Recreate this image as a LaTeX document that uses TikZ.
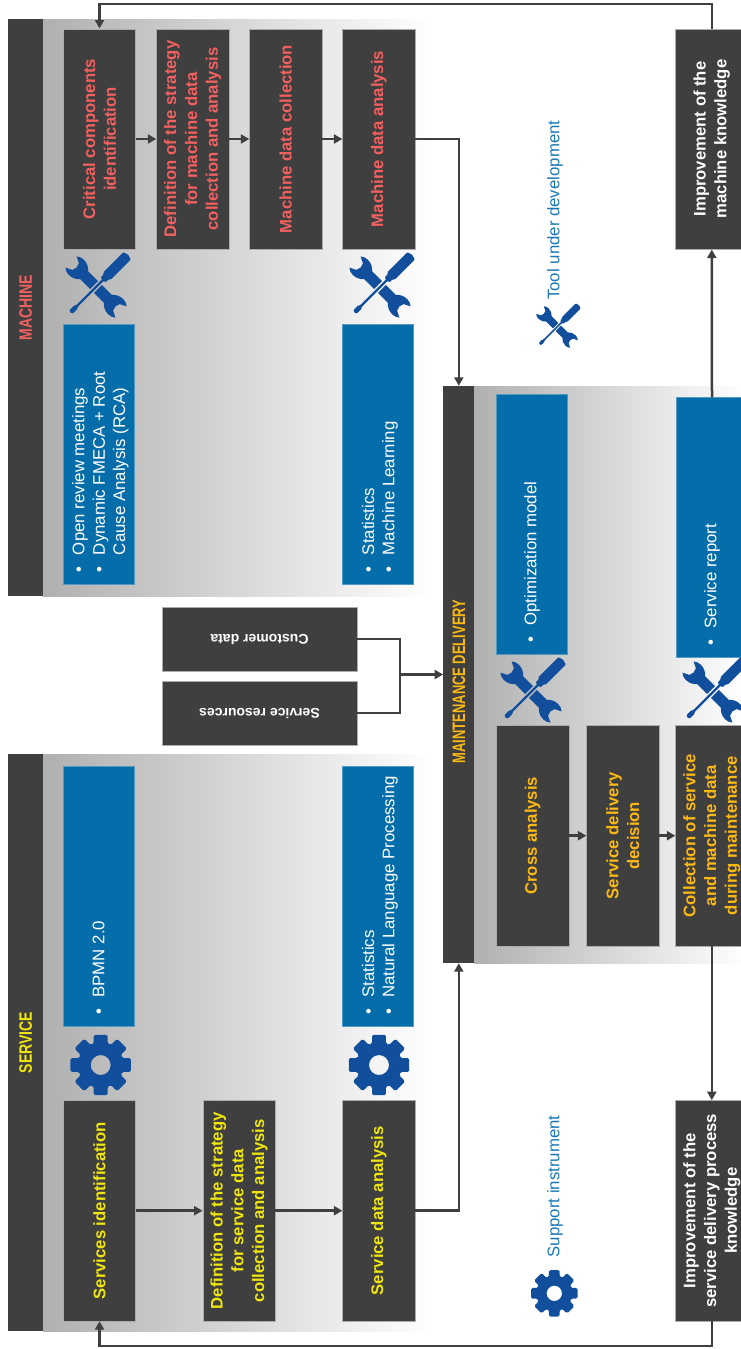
\documentclass[tikz,border=0pt]{standalone}
\usepackage{fontspec}
\usepackage{graphicx}
\setmainfont{Liberation Sans}
\usetikzlibrary{arrows.meta}
\definecolor{dark}{HTML}{3F3F3F}
\definecolor{blueb}{HTML}{056DA9}
\definecolor{iconb}{HTML}{114E9C}
\definecolor{legendb}{HTML}{1A78B4}
\definecolor{machc}{HTML}{F2605F}
\definecolor{servc}{HTML}{F0E60E}
\definecolor{mainc}{HTML}{FDB913}
\tikzset{
  header/.style={fill=dark,draw=none,rotate=90,inner sep=0pt,font=\fontsize{18}{20}\selectfont\bfseries},
  darkbox/.style={fill=dark,draw=gray!65,line width=.5pt,rotate=90,inner sep=0pt,align=center,minimum width=220.5pt,minimum height=72.3pt,font=\fontsize{16.7}{20.8}\selectfont\bfseries},
  inputbox/.style={fill=dark,draw=gray!65,line width=.5pt,rotate=180,inner sep=0pt,align=center,minimum width=195pt,minimum height=64pt,text=white,font=\fontsize{14}{16}\selectfont\bfseries},
  bluebox/.style={fill=blueb,draw=blueb!70!white,line width=.4pt,rotate=90,inner xsep=6pt,inner ysep=0pt,align=flush left,text width=248pt,minimum height=71pt,text=white,font=\fontsize{16.8}{20.3}\selectfont},
  legendtext/.style={rotate=90,anchor=west,inner sep=0pt,text=legendb,font=\fontsize{16.8}{20}\selectfont},
  conn/.style={draw=dark,line width=2.5pt,-{Triangle[length=8.5pt,width=9pt]}},
  plainconn/.style={draw=dark,line width=2.5pt},
  panel/.style={left color=gray!62,right color=white,draw=none}
}
\newcommand{\bul}[1]{\hspace*{6pt}\makebox[17pt][l]{\textbullet}#1}
\newcommand{\toprule}{\rule{0pt}{16pt}}
\newcommand{\squeezed}[2]{\scalebox{#1}[1]{#2}}
\newcommand{\toolicon}[3]{%
  \begin{scope}[shift={(#1,#2)},scale=#3]
    \foreach \ang in {135,-45}{
      \fill[iconb,rotate=\ang,scale=.93] (3,-6) -- (18,-6) .. controls (21,-9.5) and (25,-11.5) .. (30,-11.5)
        .. controls (33,-11.5) and (36,-10.5) .. (38,-8.5) -- (31,-5) .. controls (29,-2) and (29,2) .. (31,5)
        -- (38,8.5) .. controls (36,10.5) and (33,11.5) .. (30,11.5) .. controls (25,11.5) and (21,9.5) .. (18,6) -- (3,6) -- cycle;
    }
    \fill[iconb,rotate=45,rounded corners=.8pt] (-36,-1) -- (-35,-2.3) -- (-29,-2.5) -- (-27,-1.2) -- (10,-1.2) -- (10,-3.5) -- (14,-3.5) -- (16,-5.2)
      -- (44,-5.2) -- (45.5,0) -- (44,5.2) -- (16,5.2) -- (14,3.5) -- (10,3.5) -- (10,1.2) -- (-27,1.2) -- (-29,2.5) -- (-35,2.3) -- (-36,1) -- cycle;
  \end{scope}}
\newcommand{\gearicon}[3]{%
  \begin{scope}[shift={(#1,#2)},scale=#3]
    \fill[iconb,even odd rule,rounded corners=1.6pt] (-18:22.5)
      \foreach \a in {0,45,...,315}{ -- ({\a-18}:22.5) -- ({\a-13}:31) -- ({\a+13}:31) -- ({\a+18}:22.5) } -- cycle
      (10,0) arc[start angle=0,end angle=360,radius=10];
  \end{scope}}
\begin{document}
\begin{tikzpicture}[x=1pt,y=-1pt]
\useasboundingbox (0,0) rectangle (741,1349);
\clip (0,0) rectangle (741,1349);
% panels
\shade[panel] (43,19) rectangle (432,596);
\shade[panel] (43,754) rectangle (432,1331);
\shade[panel] (474,386) rectangle (745,963);
% headers
\node[header,minimum width=577pt,minimum height=35pt,text=machc] (hm) at (25.7,307.5) {\squeezed{.78}{MACHINE}};
\node[header,minimum width=577pt,minimum height=35pt,text=servc] (hs) at (25.7,1042.5) {\squeezed{.78}{SERVICE}};
\node[header,minimum width=577pt,minimum height=31pt,text=mainc] (md) at (458.8,674.5) {\squeezed{.72}{MAINTENANCE DELIVERY}\hspace*{14pt}};
% machine boxes
\node[darkbox,text=machc] (m1) at (99.5,139) {Critical components\\identification};
\node[darkbox,text=machc] (m2) at (192.7,139) {Definition of the strategy\\for machine data\\collection and analysis};
\node[darkbox,text=machc] (m3) at (285.7,139) {Machine data collection};
\node[darkbox,text=machc] (m4) at (378.8,139) {Machine data analysis};
% service boxes
\node[darkbox,text=servc] (s1) at (99.5,1210.7) {Services identification};
\node[darkbox,text=servc] (s2) at (239,1210.7) {Definition of the strategy\\for service data\\collection and analysis};
\node[darkbox,text=servc] (s3) at (378.8,1210.7) {Service data analysis};
% maintenance boxes
\node[darkbox,text=mainc] (d1) at (532.6,835.7) {Cross analysis};
\node[darkbox,text=mainc] (d2) at (622.8,835.7) {Service delivery\\decision};
\node[darkbox,text=mainc] (d3) at (711.8,835.7) {Collection of service\\and machine data\\during maintenance};
% outcome boxes
\node[darkbox,text=white] (im) at (711.8,139) {Improvement of the\\machine knowledge};
\node[darkbox,text=white] (is) at (711.8,1210.7) {Improvement of the\\service delivery process\\knowledge};
% inputs
\node[inputbox] (cu) at (259.5,639) {Customer data};
\node[inputbox] (re) at (259.5,713) {Service resources};
% blue tool boxes
\node[bluebox] (b1) at (98.5,454) {\toprule\bul{Open review meetings}\\\bul{Dynamic FMECA + Root}\\\hspace*{23pt}Cause Analysis (RCA)};
\node[bluebox] (b2) at (378,454) {\toprule\bul{Statistics}\\\bul{Machine Learning}};
\node[bluebox] (b3) at (98.5,896.5) {\bul{BPMN 2.0}};
\node[bluebox] (b4) at (378,896.5) {\toprule\bul{Statistics}\\\bul{Natural Language Processing}};
\node[bluebox] (b5) at (532,524.5) {\bul{Optimization model}};
\node[bluebox] (b6) at (712,527.5) {\bul{Service report}};
% icons
\toolicon{96}{287}{1}
\toolicon{380}{287}{1}
\toolicon{531}{692}{1}
\toolicon{713}{692}{1}
\toolicon{557}{327}{.68}
\gearicon{100.7}{1065}{1}
\gearicon{379}{1065}{1}
\gearicon{554.3}{1293.3}{.77}
% legend
\node[legendtext] (lt) at (555,300) {Tool under development};
\node[legendtext] (ls) at (555,1257.5) {Support instrument};
% connectors
\draw[conn] (m1.south) -- (m2.north);
\draw[conn] (m2.south) -- (m3.north);
\draw[conn] (m3.south) -- (m4.north);
\draw[conn] (s1.south) -- (s2.north);
\draw[conn] (s2.south) -- (s3.north);
\draw[conn] (d1.south) -- (d2.north);
\draw[conn] (d2.south) -- (d3.north);
\draw[conn] (m4.south) -| (md.east);
\draw[conn] (s3.south) -| (md.west);
\coordinate (j) at (400,674.5);
\draw[plainconn] (cu.west) -| (j);
\draw[plainconn] (re.west) -| (j);
\draw[conn] (j) -- (md.north);
\draw[conn] (d3.west) -- (is.east);
\draw[conn] (b6.east) -- (im.west);
\coordinate (topc) at (711.8,4);
\coordinate (botc) at (711.8,1346);
\draw[conn] (im.east) -- (topc) -| (m1.east);
\draw[conn] (is.west) -- (botc) -| (s1.west);
\end{tikzpicture}
\end{document}
